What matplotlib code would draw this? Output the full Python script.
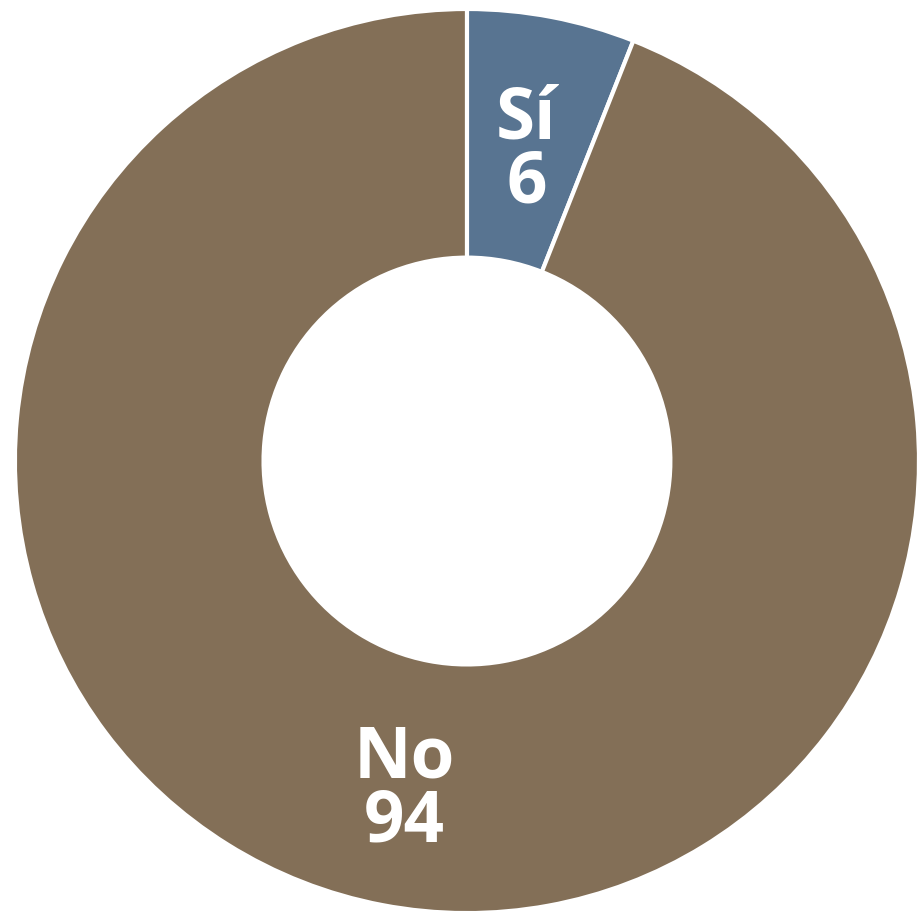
import matplotlib.pyplot as plt
import numpy as np

labels = ['Sí', 'No']
values = [6, 94]
colors = ['#587491', '#836f57']

fig = plt.figure(figsize=(9.19, 9.20), dpi=100)
ax = fig.add_axes([0, 0, 1, 1])

wedges, _ = ax.pie(values, colors=colors, startangle=90, counterclock=False,
                   radius=1, wedgeprops=dict(width=0.55, edgecolor='white', linewidth=3))

# label distance from centre for each slice
dists = [0.70, 0.74]
for w, lab, val, d in zip(wedges, labels, values, dists):
    ang = np.deg2rad((w.theta1 + w.theta2) / 2)
    ax.text(d * np.cos(ang), d * np.sin(ang), f'{lab}\n{val}', ha='center', va='center',
            color='white', fontsize=51, fontweight='bold', family='Open Sans',
            linespacing=0.85)

ax.set_xlim(-1.033, 1.0)
ax.set_ylim(-1.013, 1.022)
ax.set_aspect('equal')
ax.axis('off')

fig.savefig('out.png', dpi=100)
